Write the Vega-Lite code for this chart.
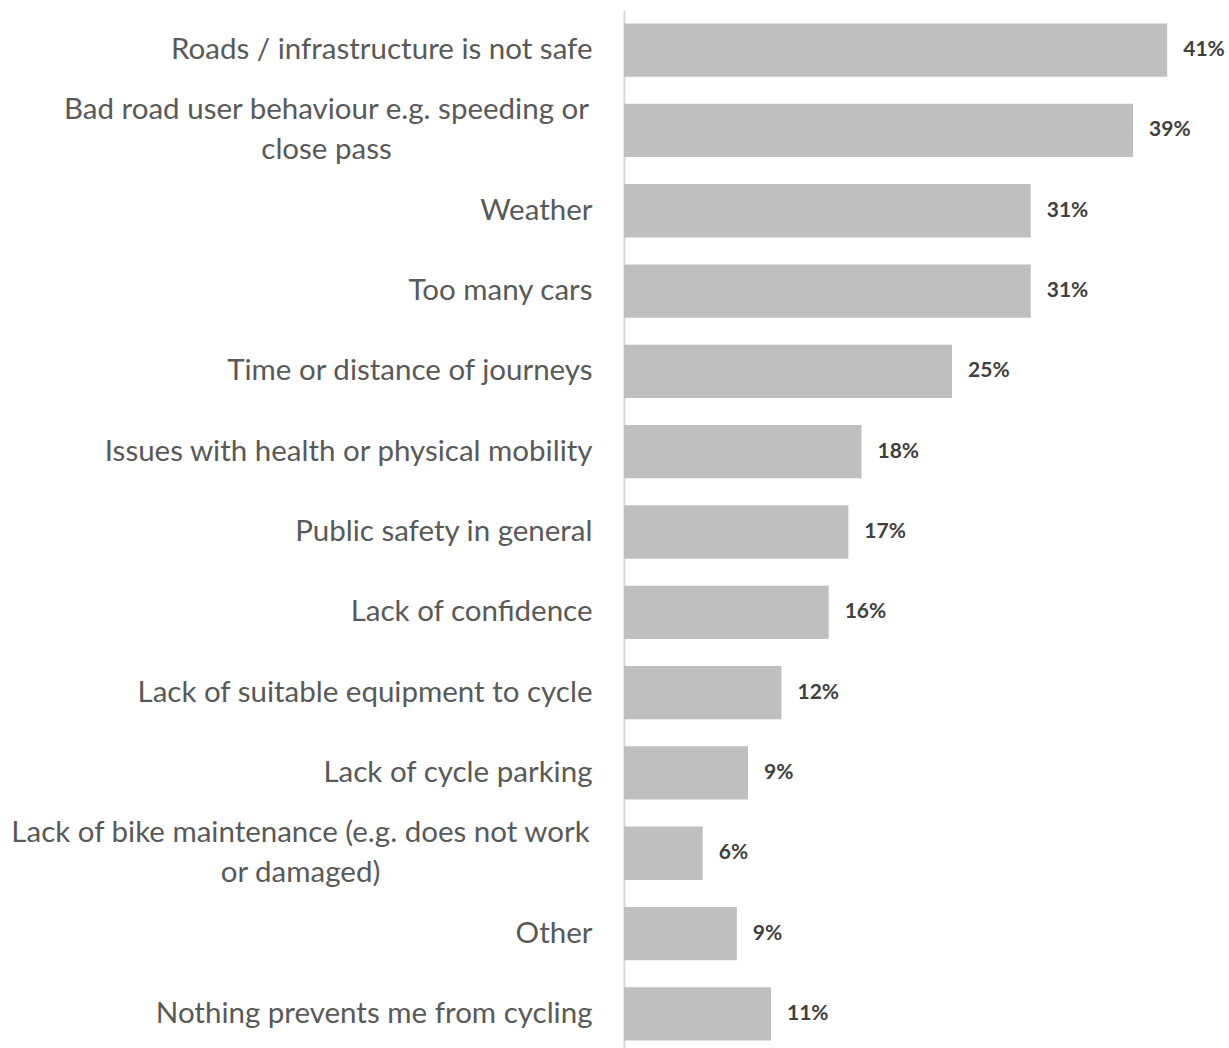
{
  "$schema": "https://vega.github.io/schema/vega-lite/v6.json",
  "width": 605,
  "height": 1044,
  "autosize": {"type": "none"},
  "padding": {"left": 624, "top": 10, "right": 0, "bottom": 0},
  "background": "white",
  "config": {"view": {"stroke": null}},
  "data": {
    "values": [
      {"reason": "Roads / infrastructure is not safe", "share": 0.414},
      {"reason": "Bad road user behaviour e.g. speeding or close pass", "share": 0.388},
      {"reason": "Weather", "share": 0.310},
      {"reason": "Too many cars", "share": 0.310},
      {"reason": "Time or distance of journeys", "share": 0.250},
      {"reason": "Issues with health or physical mobility", "share": 0.181},
      {"reason": "Public safety in general", "share": 0.171},
      {"reason": "Lack of confidence", "share": 0.156},
      {"reason": "Lack of suitable equipment to cycle", "share": 0.120},
      {"reason": "Lack of cycle parking", "share": 0.0945},
      {"reason": "Lack of bike maintenance (e.g. does not work or damaged)", "share": 0.060},
      {"reason": "Other", "share": 0.086},
      {"reason": "Nothing prevents me from cycling", "share": 0.112}
    ]
  },
  "encoding": {
    "y": {
      "field": "reason",
      "type": "nominal",
      "sort": null,
      "scale": {"paddingInner": 0.336, "paddingOuter": 0.168},
      "axis": {
        "title": null,
        "domain": true,
        "domainColor": "#D9D9D9",
        "domainWidth": 2,
        "ticks": false,
        "labelFont": "Lato",
        "labelFontSize": 29.5,
        "labelColor": "#595959",
        "labelLimit": 800,
        "labelLineHeight": 40,
        "labelExpr": "datum.value == 'Bad road user behaviour e.g. speeding or close pass' ? ['Bad road user behaviour e.g. speeding or', 'close pass'] : datum.value == 'Lack of bike maintenance (e.g. does not work or damaged)' ? ['Lack of bike maintenance (e.g. does not work', 'or damaged)'] : datum.value",
        "labelAlign": {"condition": {"test": "indexof(datum.value, 'Bad road') == 0 || indexof(datum.value, 'Lack of bike') == 0", "value": "center"}, "value": "right"},
        "labelOffset": {"condition": {"test": "indexof(datum.value, 'Bad road') == 0 || indexof(datum.value, 'Lack of bike') == 0", "value": -20}, "value": 0},
        "labelPadding": {"condition": [{"test": "indexof(datum.value, 'Bad road') == 0", "value": 298}, {"test": "indexof(datum.value, 'Lack of bike') == 0", "value": 324}], "value": 32}
      }
    },
    "x": {
      "field": "share",
      "type": "quantitative",
      "scale": {"domain": [0, 0.4611]},
      "axis": null
    }
  },
  "layer": [
    {"mark": {"type": "bar", "color": "#BFBFBF"}},
    {
      "mark": {"type": "text", "align": "left", "baseline": "middle", "dx": 16, "font": "Lato", "fontWeight": "bold", "fontSize": 21, "color": "#404040"},
      "encoding": {"text": {"field": "share", "type": "quantitative", "format": ".0%"}}
    }
  ]
}
